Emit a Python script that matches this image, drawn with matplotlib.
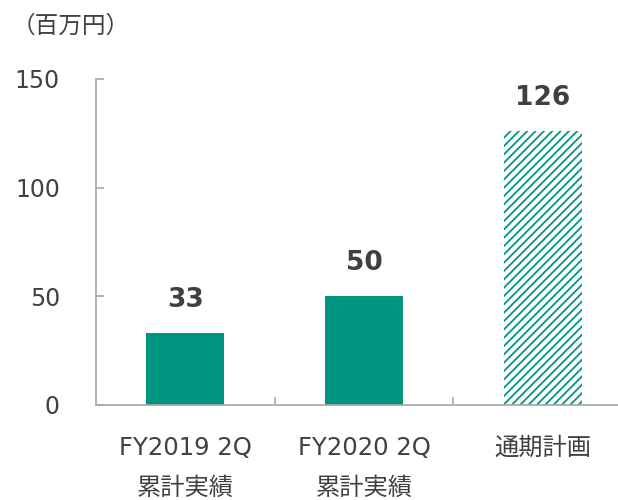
import matplotlib
matplotlib.use("Agg")
import matplotlib.pyplot as plt
from matplotlib.ticker import FixedLocator

plt.rcParams['font.family'] = ['DejaVu Sans', 'Noto Sans CJK JP']
plt.rcParams['hatch.linewidth'] = 1.3

categories = ["FY2019 2Q\n累計実績", "FY2020 2Q\n累計実績", "通期計画"]
values = [33, 50, 126]
hatched = [False, False, True]
y_ticks = [0, 50, 100, 150]
unit_label = "（百万円）"

teal = "#00957f"
text_color = "#404040"
axis_color = "#a6a6a6"

fig = plt.figure(figsize=(6.18, 5.0), dpi=100)
# the plot area runs a bit past the right edge of the figure, as in the original
ax = fig.add_axes([96 / 618, 1 - 405 / 500, 536 / 618, 326 / 500])

x = list(range(len(categories)))
for xi, v, h in zip(x, values, hatched):
    if h:
        ax.bar(xi, v, width=0.437, color="white", edgecolor=teal, hatch="////", linewidth=0)
    else:
        ax.bar(xi, v, width=0.437, color=teal, linewidth=0)
    ax.annotate(str(v), (xi, v), xytext=(0, 24), textcoords="offset points",
                ha="center", va="center", fontsize=19, fontweight="bold", color=text_color)

ax.set_xlim(-0.5, 2.5)
ax.set_ylim(0, 150)
ax.set_yticks(y_ticks)
ax.set_xticks(x)
ax.set_xticklabels(categories, linespacing=1.85)
ax.xaxis.set_minor_locator(FixedLocator([0.5, 1.5]))

for s in ["top", "right"]:
    ax.spines[s].set_visible(False)
for s in ["left", "bottom"]:
    ax.spines[s].set_color(axis_color)
    ax.spines[s].set_linewidth(1.2)

ax.tick_params(axis="y", direction="in", length=6, width=1.2, color=axis_color,
               labelsize=17, labelcolor=text_color, pad=26)
ax.tick_params(axis="x", which="major", length=0, labelsize=17.5, labelcolor=text_color, pad=22)
ax.tick_params(axis="x", which="minor", direction="in", length=6, width=1.2, color=axis_color)

fig.text(12 / 618, 1 - 26 / 500, unit_label, fontsize=17, color=text_color, va="center", ha="left")

fig.savefig("out.png", dpi=100)
